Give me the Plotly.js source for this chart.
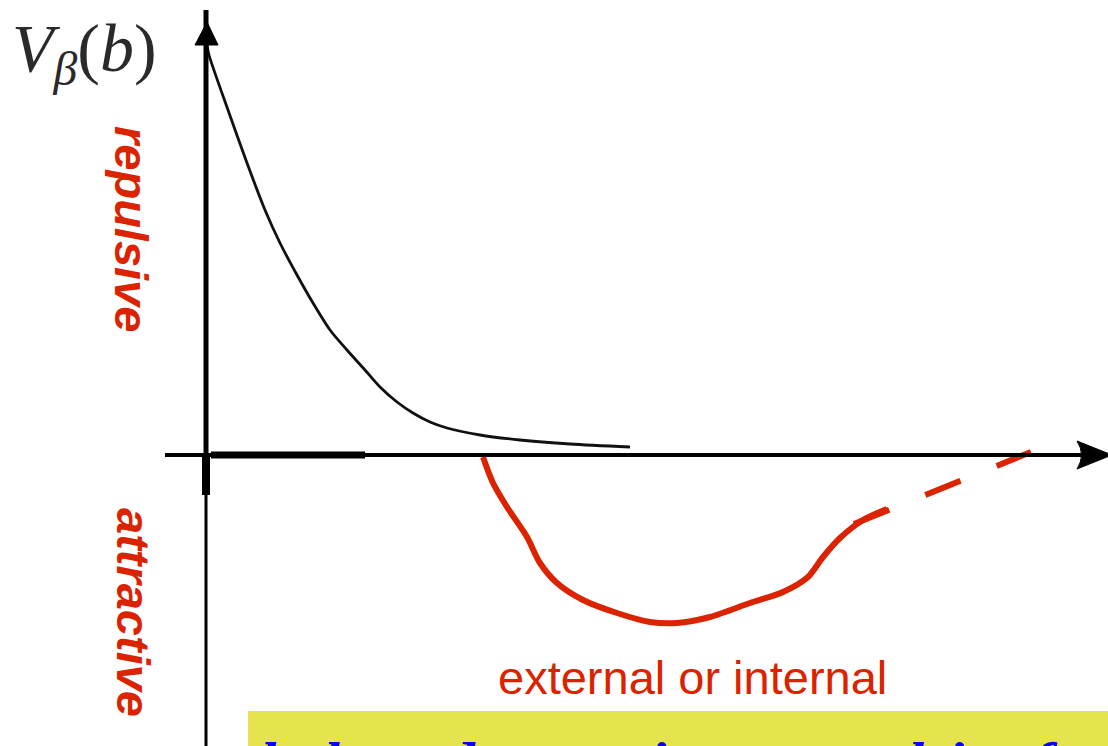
<!DOCTYPE html>
<html>
<head>
<meta charset="utf-8">
<script src="https://cdn.plot.ly/plotly-3.0.1.min.js"></script>
<style>
  html, body { margin: 0; padding: 0; background: #ffffff; }
  #chart { width: 1108px; height: 746px; }
</style>
</head>
<body>
<div id="chart"></div>
<script>
// Short-range repulsive part of the potential V_beta(b)
const repulsiveB = [0.01, 0.03, 0.22, 0.41, 0.59, 0.74, 0.91, 1.07, 1.24, 1.41, 1.59, 1.74, 1.91, 2.07, 2.24, 2.41, 2.74, 3.14, 3.64, 4.24];
const repulsiveV = [4.10, 4.00, 3.45, 2.92, 2.45, 2.12, 1.80, 1.52, 1.25, 1.05, 0.85, 0.68, 0.53, 0.42, 0.33, 0.27, 0.20, 0.15, 0.11, 0.08];

// Attractive well (external or internal)
const attractiveB = [2.77, 2.87, 3.01, 3.21, 3.34, 3.51, 3.77, 4.11, 4.44, 4.71, 5.04, 5.44, 5.77, 6.02, 6.17, 6.34, 6.57, 6.81];
const attractiveV = [-0.02, -0.28, -0.52, -0.82, -1.08, -1.28, -1.45, -1.58, -1.67, -1.68, -1.62, -1.48, -1.37, -1.22, -1.02, -0.83, -0.65, -0.54];

// Dashed continuation of the well back to zero
const tailB = [6.48, 8.25];
const tailV = [-0.69, 0.03];

// Text
const yLabel = '<i>V</i><sub><i>β</i></sub>(<i>b</i>)';
const upperLabel = 'repulsive';
const lowerLabel = 'attractive';
const wellLabel = 'external or internal';
const boxText = 'hole and attraction + repulsive force';

const RED = '#dc2300';
const INK = '#111111';

const traces = [
  { x: repulsiveB, y: repulsiveV, mode: 'lines', line: { color: INK, width: 2.8, shape: 'spline', smoothing: 0.8 } },
  { x: attractiveB, y: attractiveV, mode: 'lines', line: { color: RED, width: 6, shape: 'spline', smoothing: 0.8 } },
  { x: tailB, y: tailV, mode: 'lines', line: { color: RED, width: 6, dash: '38px,39px' } }
];

const shapes = [
  // highlight box behind the bottom caption
  { type: 'rect', xref: 'x', yref: 'y', x0: 0.42, x1: 9.6, y0: -3.6, y1: -2.56, fillcolor: '#e6e44e', line: { width: 0 }, layer: 'below' },
  // horizontal axis
  { type: 'line', xref: 'x', yref: 'y', x0: -0.41, x1: 8.8, y0: 0, y1: 0, line: { color: '#000', width: 4 } },
  { type: 'line', xref: 'x', yref: 'y', x0: 0.05, x1: 1.59, y0: 0, y1: 0, line: { color: '#000', width: 7 } },
  // vertical axis
  { type: 'line', xref: 'x', yref: 'y', x0: 0, x1: 0, y0: 0, y1: 4.45, line: { color: '#000', width: 5 } },
  { type: 'line', xref: 'x', yref: 'y', x0: 0, x1: 0, y0: 0.02, y1: -0.40, line: { color: '#000', width: 8 } },
  { type: 'line', xref: 'x', yref: 'y', x0: 0, x1: 0, y0: -0.40, y1: -3.0, line: { color: '#000', width: 3 } },
  // arrowheads
  { type: 'path', xref: 'x', yref: 'y', path: 'M 0.01 4.33 L -0.11 4.10 L 0.12 4.10 Z', fillcolor: '#000', line: { color: '#000', width: 1 } },
  { type: 'path', xref: 'x', yref: 'y', path: 'M 9.06 0 L 8.71 0.14 Q 8.80 0 8.71 -0.14 Z', fillcolor: '#000', line: { color: '#000', width: 1 } }
];

const annotations = [
  { xref: 'x', yref: 'y', x: -1.22, y: 4.03, text: yLabel, showarrow: false,
    font: { family: 'Liberation Serif, serif', size: 68, color: '#2a2a2a' } },
  { xref: 'x', yref: 'y', x: -0.74, y: 2.26, text: upperLabel, showarrow: false, textangle: 90,
    font: { family: 'Liberation Sans, Arial, sans-serif', size: 47, color: RED, weight: 'bold', style: 'italic' } },
  { xref: 'x', yref: 'y', x: -0.72, y: -1.57, text: lowerLabel, showarrow: false, textangle: 90,
    font: { family: 'Liberation Sans, Arial, sans-serif', size: 47, color: RED, weight: 'bold', style: 'italic' } },
  { xref: 'x', yref: 'y', x: 4.86, y: -2.22, text: wellLabel, showarrow: false,
    font: { family: 'Liberation Sans, Arial, sans-serif', size: 47, color: RED } },
  { xref: 'x', yref: 'y', x: 0.52, y: -2.73, xanchor: 'left', yanchor: 'top', text: boxText, showarrow: false,
    font: { family: 'Liberation Serif, serif', size: 60, color: '#0a00f5', weight: 'bold', style: 'italic' } }
];

const layout = {
  width: 1108, height: 746,
  margin: { l: 0, r: 0, t: 0, b: 0, pad: 0 },
  paper_bgcolor: '#ffffff', plot_bgcolor: '#ffffff',
  showlegend: false,
  xaxis: { range: [-2.06, 9.02], visible: false, fixedrange: true },
  yaxis: { range: [-2.91, 4.55], visible: false, fixedrange: true },
  shapes: shapes,
  annotations: annotations
};

Plotly.newPlot('chart', traces, layout, { staticPlot: true, displayModeBar: false });
</script>
</body>
</html>
